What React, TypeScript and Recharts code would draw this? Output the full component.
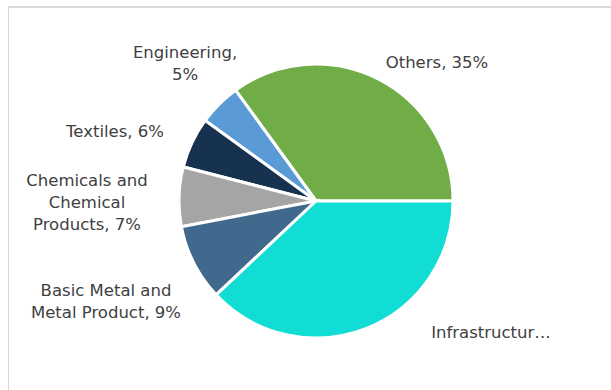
import React from "react";
import { PieChart, Pie, Cell } from "recharts";

const categories = [
  "Others",
  "Engineering",
  "Textiles",
  "Chemicals and Chemical Products",
  "Basic Metal and Metal Product",
  "Infrastructure",
];
const shares = [35, 5, 6, 7, 9, 38];
const colors = ["#70AD47", "#5B9BD5", "#16324F", "#A5A5A5", "#41698E", "#12DDD4"];

const data = categories.map((name, i) => ({ name, value: shares[i] }));

// label layout (relative to pie centre), wrap width in characters, truncation
const LABEL_LAYOUT = [
  { dx: 121, dy: -139, wrap: 30, trunc: 0 },
  { dx: -131, dy: -138, wrap: 12, trunc: 0 },
  { dx: -201, dy: -70, wrap: 30, trunc: 0 },
  { dx: -229, dy: 1, wrap: 13, trunc: 0 },
  { dx: -210, dy: 100, wrap: 17, trunc: 0 },
  { dx: 175, dy: 131, wrap: 30, trunc: 13 },
];

function wrapText(text: string, max: number): string[] {
  const words = text.split(" ");
  const lines: string[] = [];
  let cur = "";
  for (const w of words) {
    const next = cur ? cur + " " + w : w;
    if (next.length > max && cur) {
      lines.push(cur);
      cur = w;
    } else {
      cur = next;
    }
  }
  if (cur) lines.push(cur);
  return lines;
}

const renderLabel = (props: any) => {
  const { cx, cy, index, name, value } = props;
  const lay = LABEL_LAYOUT[index];
  const full = `${name}, ${value}%`;
  const lines = lay.trunc ? [full.slice(0, lay.trunc) + "…"] : wrapText(full, lay.wrap);
  const lh = 22;
  const x = cx + lay.dx;
  const y0 = cy + lay.dy - ((lines.length - 1) * lh) / 2;
  return (
    <text
      key={`lbl-${index}`}
      x={x}
      y={y0}
      textAnchor="middle"
      dominantBaseline="central"
      fill="#404040"
      fontSize={16.5}
      fontFamily="DejaVu Sans, Verdana, sans-serif"
    >
      {lines.map((l, i) => (
        <tspan key={i} x={x} y={y0 + i * lh} dominantBaseline="central">
          {l}
        </tspan>
      ))}
    </text>
  );
};

export default function App() {
  return (
    <div
      style={{
        position: "absolute",
        left: 8,
        top: 6,
        width: 620,
        height: 400,
        borderTop: "2px solid #d9d9d9",
        borderLeft: "1px solid #d9d9d9",
        boxSizing: "border-box",
        background: "#fff",
      }}
    >
      <PieChart width={600} height={385} margin={{ top: 0, right: 0, bottom: 0, left: 0 }}>
        <Pie
          data={data}
          dataKey="value"
          nameKey="name"
          cx={307}
          cy={193}
          outerRadius={137}
          startAngle={0}
          endAngle={360}
          stroke="#ffffff"
          strokeWidth={3}
          label={renderLabel}
          labelLine={false}
          isAnimationActive={false}
        >
          {data.map((d, i) => (
            <Cell key={d.name} fill={colors[i]} />
          ))}
        </Pie>
      </PieChart>
    </div>
  );
}
